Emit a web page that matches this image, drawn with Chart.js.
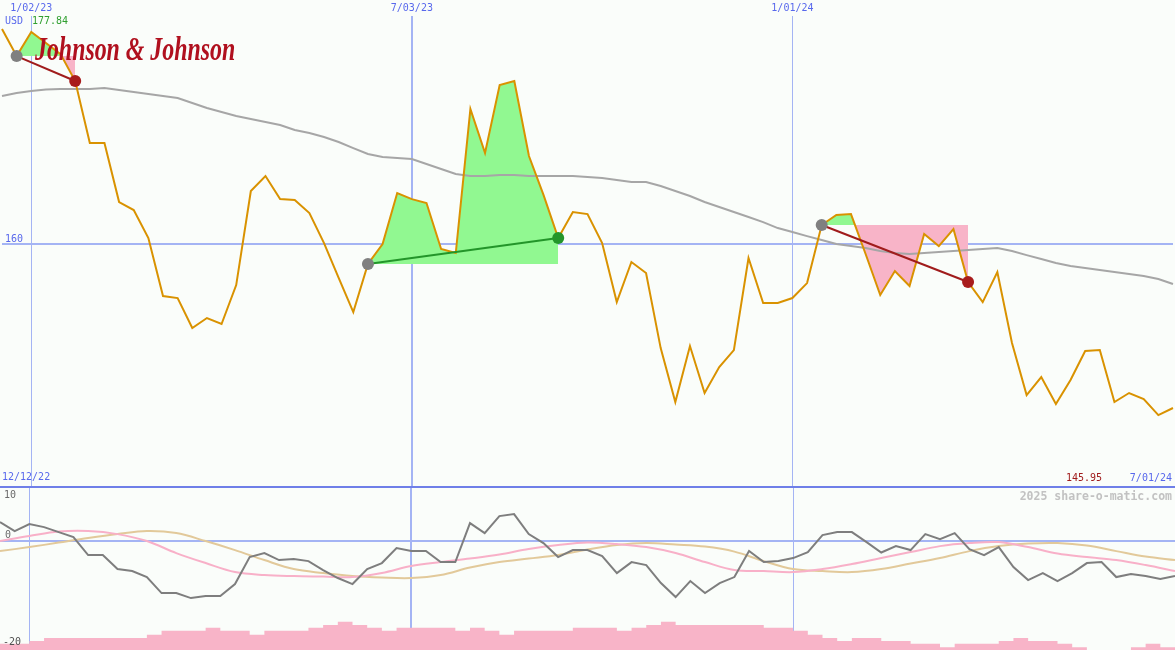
<!DOCTYPE html>
<html>
<head>
<meta charset="utf-8">
<title>Johnson &amp; Johnson - share-o-matic</title>
<script src="https://cdn.jsdelivr.net/npm/chart.js@4.4.1/dist/chart.umd.min.js"></script>
<style>
    body { margin: 0; background: #fafdfa; }
    #wrap { position: relative; width: 1175px; height: 650px; overflow: hidden;
            font-family: "DejaVu Sans Mono", monospace; font-size: 10px; line-height: 12px; }
    canvas { position: absolute; left: 0; }
    #priceChart { top: 0; }
    #oscChart { top: 486px; }
    .lbl { position: absolute; white-space: nowrap; }
    .blue { color: #5868ec; }
    #logo { position: absolute; left: 35px; top: 32px; font-family: "Liberation Serif", serif;
            font-style: italic; font-weight: bold; font-size: 34px; line-height: 34px; color: #b0101e;
            white-space: nowrap; transform-origin: left top; }
</style>
</head>
<body>
<div id="wrap">
    <canvas id="priceChart" width="1175" height="487"></canvas>
    <canvas id="oscChart" width="1175" height="164"></canvas>

    <div id="logo">Johnson &amp; Johnson</div>
    <div class="lbl blue" style="left:5px; top:15px;">USD</div>
    <div class="lbl" style="left:32px; top:15px; color:#2f9f2f;">177.84</div>
    <div class="lbl blue" style="left:5px; top:233px;">160</div>
    <div class="lbl blue" style="left:2px; top:471px;">12/12/22</div>
    <div class="lbl" style="left:1066px; top:472px; color:#a01c1c;">145.95</div>
    <div class="lbl blue" style="right:3px; top:472px;">7/01/24</div>
    <div class="lbl" style="right:3px; top:489px; font-size:11.5px; line-height:14px; font-weight:bold; color:#c2c2c2;">2025 share-o-matic.com</div>
    <div class="lbl" style="left:4px; top:489px; color:#6a6a6a;">10</div>
    <div class="lbl" style="left:5px; top:529px; color:#6a6a6a;">0</div>
    <div class="lbl" style="left:3px; top:636px; color:#505050;">-20</div>
</div>

<script>
// Weekly dates shown on the chart
const dates = [
    '12/19/22', '12/26/22', '1/02/23', '1/09/23', '1/16/23', '1/23/23', '1/30/23', '2/06/23', '2/13/23', '2/20/23',
    '2/27/23', '3/06/23', '3/13/23', '3/20/23', '3/27/23', '4/03/23', '4/10/23', '4/17/23', '4/24/23', '5/01/23',
    '5/08/23', '5/15/23', '5/22/23', '5/29/23', '6/05/23', '6/12/23', '6/19/23', '6/26/23', '7/03/23', '7/10/23',
    '7/17/23', '7/24/23', '7/31/23', '8/07/23', '8/14/23', '8/21/23', '8/28/23', '9/04/23', '9/11/23', '9/18/23',
    '9/25/23', '10/02/23', '10/09/23', '10/16/23', '10/23/23', '10/30/23', '11/06/23', '11/13/23', '11/20/23', '11/27/23',
    '12/04/23', '12/11/23', '12/18/23', '12/25/23', '1/01/24', '1/08/24', '1/15/24', '1/22/24', '1/29/24', '2/05/24',
    '2/12/24', '2/19/24', '2/26/24', '3/04/24', '3/11/24', '3/18/24', '3/25/24', '4/01/24', '4/08/24', '4/15/24',
    '4/22/24', '4/29/24', '5/06/24', '5/13/24', '5/20/24', '5/27/24', '6/03/24', '6/10/24', '6/17/24', '6/24/24',
    '7/01/24'
];

// Dates with a vertical grid line and label
const gridDates = ['1/02/23', '7/03/23', '1/01/24'];

// Closing price (USD)
const prices = [
    177.62, 175.40, 177.37, 176.47, 175.56, 173.35, 168.25, 168.25, 163.41, 162.75,
    160.45, 155.69, 155.52, 153.06, 153.88, 153.39, 156.59, 164.31, 165.54, 163.65,
    163.57, 162.50, 160.04, 157.17, 154.37, 158.32, 159.96, 164.15, 163.65, 163.33,
    159.55, 159.22, 171.05, 167.43, 173.02, 173.35, 167.19, 163.98, 160.45, 162.59,
    162.42, 160.04, 155.19, 158.48, 157.58, 151.41, 146.98, 151.58, 147.72, 149.85,
    151.25, 158.81, 155.11, 155.11, 155.52, 156.75, 161.52, 162.34, 162.42, 159.14,
    155.77, 157.74, 156.51, 160.78, 159.79, 161.19, 156.84, 155.19, 157.66, 151.83,
    147.55, 149.03, 146.81, 148.79, 151.17, 151.25, 146.98, 147.72, 147.23, 145.91,
    146.49
];

// Long moving average (grey line)
const movingAvg = [
    172.11, 172.36, 172.53, 172.65, 172.69, 172.69, 172.69, 172.77, 172.61, 172.44,
    172.28, 172.11, 171.95, 171.54, 171.13, 170.80, 170.47, 170.23, 169.98, 169.73,
    169.32, 169.08, 168.75, 168.34, 167.84, 167.35, 167.10, 167.02, 166.94, 166.53,
    166.12, 165.71, 165.54, 165.54, 165.63, 165.63, 165.54, 165.54, 165.54, 165.54,
    165.46, 165.38, 165.21, 165.05, 165.05, 164.72, 164.31, 163.90, 163.41, 163.00,
    162.59, 162.18, 161.76, 161.27, 160.94, 160.61, 160.29, 159.96, 159.79, 159.63,
    159.38, 159.22, 159.14, 159.22, 159.30, 159.38, 159.46, 159.55, 159.63, 159.38,
    159.05, 158.73, 158.40, 158.15, 157.99, 157.82, 157.66, 157.49, 157.33, 157.08,
    156.67
];

// Trades: entry and exit weeks
const tradeEntries = ['12/26/22', '6/12/23', '1/15/24'];
const tradeExits = ['1/23/23', '9/11/23', '3/25/24'];

// Oscillator (dark grey line)
const oscillator = [
    3.55, 1.90, 3.18, 2.63, 1.71, 0.79, -2.52, -2.52, -5.10, -5.47,
    -6.57, -9.52, -9.52, -10.44, -10.07, -10.07, -7.86, -2.88, -2.15, -3.44,
    -3.26, -3.63, -5.28, -6.75, -7.86, -5.10, -3.99, -1.23, -1.78, -1.78,
    -3.81, -3.81, 3.37, 1.53, 4.66, 5.02, 1.34, -0.31, -2.89, -1.60,
    -1.60, -2.71, -5.83, -3.81, -4.36, -7.68, -10.25, -7.31, -9.52, -7.68,
    -6.57, -1.78, -3.81, -3.63, -3.07, -1.97, 1.16, 1.71, 1.71, -0.13,
    -2.05, -0.87, -1.60, 1.34, 0.42, 1.53, -1.42, -2.52, -1.05, -4.73,
    -7.12, -5.83, -7.31, -5.83, -3.99, -3.81, -6.57, -6.02, -6.39, -6.94,
    -6.39
];

// Signal lines, read every second week
const pinkSignal = [
    0.06, 0.98, 1.80, 1.90, 1.34, 0.06, -2.15, -3.99, -5.65, -6.20,
    -6.39, -6.48, -6.57, -5.83, -4.55, -3.81, -3.17, -2.43, -1.42, -0.68,
    -0.22, -0.50, -1.05, -2.15, -3.81, -5.28, -5.47, -5.65, -5.10, -4.18,
    -3.07, -1.97, -0.87, -0.31, -0.13, -1.05, -2.25, -2.89, -3.44, -4.36,
    -5.47
];
const tanSignal = [
    -1.79, -1.05, -0.22, 0.61, 1.34, 1.90, 1.53, 0.06, -1.60, -3.44,
    -5.10, -5.83, -6.39, -6.66, -6.75, -6.20, -4.82, -3.81, -3.17, -2.52,
    -1.51, -0.68, -0.31, -0.59, -0.96, -1.88, -3.63, -5.10, -5.47, -5.65,
    -5.10, -4.09, -3.07, -1.79, -0.87, -0.40, -0.31, -0.77, -1.79, -2.80,
    -3.44
];

// Weekly volume (millions)
const volumes = [
    15, 15, 22, 29, 29, 29, 29, 29, 29, 29,
    37, 47, 47, 47, 54, 47, 47, 37, 47, 47,
    47, 54, 61, 69, 61, 54, 47, 54, 54, 54,
    54, 47, 54, 47, 37, 47, 47, 47, 47, 54,
    54, 54, 47, 54, 61, 69, 61, 61, 61, 61,
    61, 61, 54, 54, 47, 37, 29, 22, 29, 29,
    22, 22, 15, 15, 7, 15, 15, 15, 22, 29,
    22, 22, 15, 7, 0, 0, 0, 7, 15, 7,
    7
];

const GREEN_FILL = '#91f891';
const PINK_FILL = '#f8b4c8';
const GRID_BLUE = '#a4b4f4';
const MONO = '"DejaVu Sans Mono", monospace';

document.addEventListener('DOMContentLoaded', function() {
    fitLogo();
    drawPriceChart();
    drawOscChart();
});

// Squeeze the logo text to the width of the original logo
function fitLogo() {
    const logo = document.getElementById('logo');
    const w = logo.offsetWidth;
    logo.style.transform = 'scaleX(' + (200 / w) + ')';
}

function gridColor(ctx) {
    return gridDates.includes(dates[ctx.index]) ? GRID_BLUE : 'rgba(0,0,0,0)';
}

function gridWidth(ctx) {
    return dates[ctx.index] === '7/03/23' ? 2 : 1;
}

function pointsBetween(values, from, to) {
    const a = dates.indexOf(from);
    const b = dates.indexOf(to);
    const pts = [];
    for (let i = a; i <= b; i++) {
        pts.push({ x: dates[i], y: values[i] });
    }
    return pts;
}

function drawPriceChart() {
    const datasets = [];

    // Filled areas of each trade, green above the entry price, pink below
    tradeEntries.forEach((entry, t) => {
        const entryPrice = prices[dates.indexOf(entry)];
        datasets.push({
            data: pointsBetween(prices, entry, tradeExits[t]),
            borderWidth: 0,
            borderColor: 'rgba(0,0,0,0)',
            pointRadius: 0,
            fill: { target: { value: entryPrice }, above: GREEN_FILL, below: PINK_FILL },
            order: 6
        });
    });

    // Moving average
    datasets.push({
        data: movingAvg,
        borderColor: '#a6a6a6',
        borderWidth: 2,
        pointRadius: 0,
        fill: false,
        order: 5
    });

    // Price
    datasets.push({
        data: prices,
        borderColor: '#d99200',
        borderWidth: 2,
        pointRadius: 0,
        fill: false,
        order: 4
    });

    // Line from entry to exit, coloured by result
    tradeEntries.forEach((entry, t) => {
        const exit = tradeExits[t];
        const p0 = prices[dates.indexOf(entry)];
        const p1 = prices[dates.indexOf(exit)];
        datasets.push({
            data: [{ x: entry, y: p0 }, { x: exit, y: p1 }],
            borderColor: p1 > p0 ? '#23952a' : '#a01c1c',
            borderWidth: 2,
            pointRadius: 0,
            fill: false,
            order: 3
        });
    });

    // Entry dots
    datasets.push({
        data: tradeEntries.map(d => ({ x: d, y: prices[dates.indexOf(d)] })),
        showLine: false,
        pointRadius: 6,
        pointBorderWidth: 0,
        pointBackgroundColor: '#808080',
        order: 1
    });

    // Exit dots
    datasets.push({
        data: tradeExits.map(d => ({ x: d, y: prices[dates.indexOf(d)] })),
        showLine: false,
        pointRadius: 6,
        pointBorderWidth: 0,
        pointBackgroundColor: tradeExits.map((d, t) =>
            prices[dates.indexOf(d)] > prices[dates.indexOf(tradeEntries[t])] ? '#23952a' : '#a81c1c'),
        order: 1
    });

    new Chart(document.getElementById('priceChart'), {
        type: 'line',
        data: { labels: dates, datasets: datasets },
        options: {
            responsive: false,
            animation: false,
            layout: { padding: 0, autoPadding: false },
            elements: { line: { tension: 0 } },
            plugins: { legend: { display: false }, tooltip: { enabled: false } },
            scales: {
                x: {
                    position: 'top',
                    border: { display: false },
                    grid: { color: gridColor, lineWidth: gridWidth, drawTicks: false },
                    ticks: {
                        autoSkip: false,
                        maxRotation: 0,
                        minRotation: 0,
                        padding: 2,
                        color: '#5868ec',
                        font: { family: MONO, size: 10 },
                        callback: function(value, index) {
                            return gridDates.includes(dates[index]) ? dates[index] : '';
                        }
                    },
                    afterFit: function(axis) { axis.height = 16; }
                },
                y: {
                    min: 140,
                    max: 178.69,
                    border: { display: false },
                    grid: { color: GRID_BLUE, lineWidth: 2, drawTicks: false },
                    ticks: { display: false },
                    afterBuildTicks: function(axis) { axis.ticks = [{ value: 160 }]; },
                    afterFit: function(axis) { axis.width = 0; }
                }
            }
        }
    });
}

function drawOscChart() {
    const everyOther = dates.filter((d, i) => i % 2 === 0);

    new Chart(document.getElementById('oscChart'), {
        type: 'line',
        data: {
            labels: dates,
            datasets: [
                {
                    // Volume histogram, each week held until the next
                    data: volumes,
                    yAxisID: 'vol',
                    stepped: 'before',
                    borderWidth: 0,
                    borderColor: 'rgba(0,0,0,0)',
                    backgroundColor: PINK_FILL,
                    pointRadius: 0,
                    fill: 'start',
                    order: 5
                },
                {
                    data: tanSignal.map((v, i) => ({ x: everyOther[i], y: v })),
                    borderColor: '#e2c99a',
                    borderWidth: 2,
                    pointRadius: 0,
                    tension: 0.35,
                    fill: false,
                    order: 4
                },
                {
                    data: pinkSignal.map((v, i) => ({ x: everyOther[i], y: v })),
                    borderColor: '#f8b0c8',
                    borderWidth: 2,
                    pointRadius: 0,
                    tension: 0.35,
                    fill: false,
                    order: 3
                },
                {
                    data: oscillator,
                    borderColor: '#7e7e7e',
                    borderWidth: 2,
                    pointRadius: 0,
                    tension: 0,
                    fill: false,
                    order: 1
                }
            ]
        },
        options: {
            responsive: false,
            animation: false,
            layout: { padding: 0, autoPadding: false },
            plugins: { legend: { display: false }, tooltip: { enabled: false } },
            scales: {
                x: {
                    border: { display: false },
                    grid: { color: gridColor, lineWidth: gridWidth, drawTicks: false },
                    ticks: { display: false, autoSkip: false },
                    afterFit: function(axis) { axis.height = 0; }
                },
                y: {
                    min: -20,
                    max: 10.2,
                    border: { display: false },
                    grid: {
                        drawTicks: false,
                        lineWidth: 2,
                        color: function(ctx) {
                            if (!ctx.tick) return 'rgba(0,0,0,0)';
                            if (ctx.tick.value === 10) return '#6f7fe8';
                            if (ctx.tick.value === 0) return GRID_BLUE;
                            return 'rgba(0,0,0,0)';
                        }
                    },
                    ticks: { display: false },
                    afterBuildTicks: function(axis) {
                        axis.ticks = [{ value: 10 }, { value: 0 }, { value: -20 }];
                    },
                    afterFit: function(axis) { axis.width = 0; }
                },
                vol: {
                    display: false,
                    min: 0,
                    max: 400
                }
            }
        }
    });
}
</script>
</body>
</html>
